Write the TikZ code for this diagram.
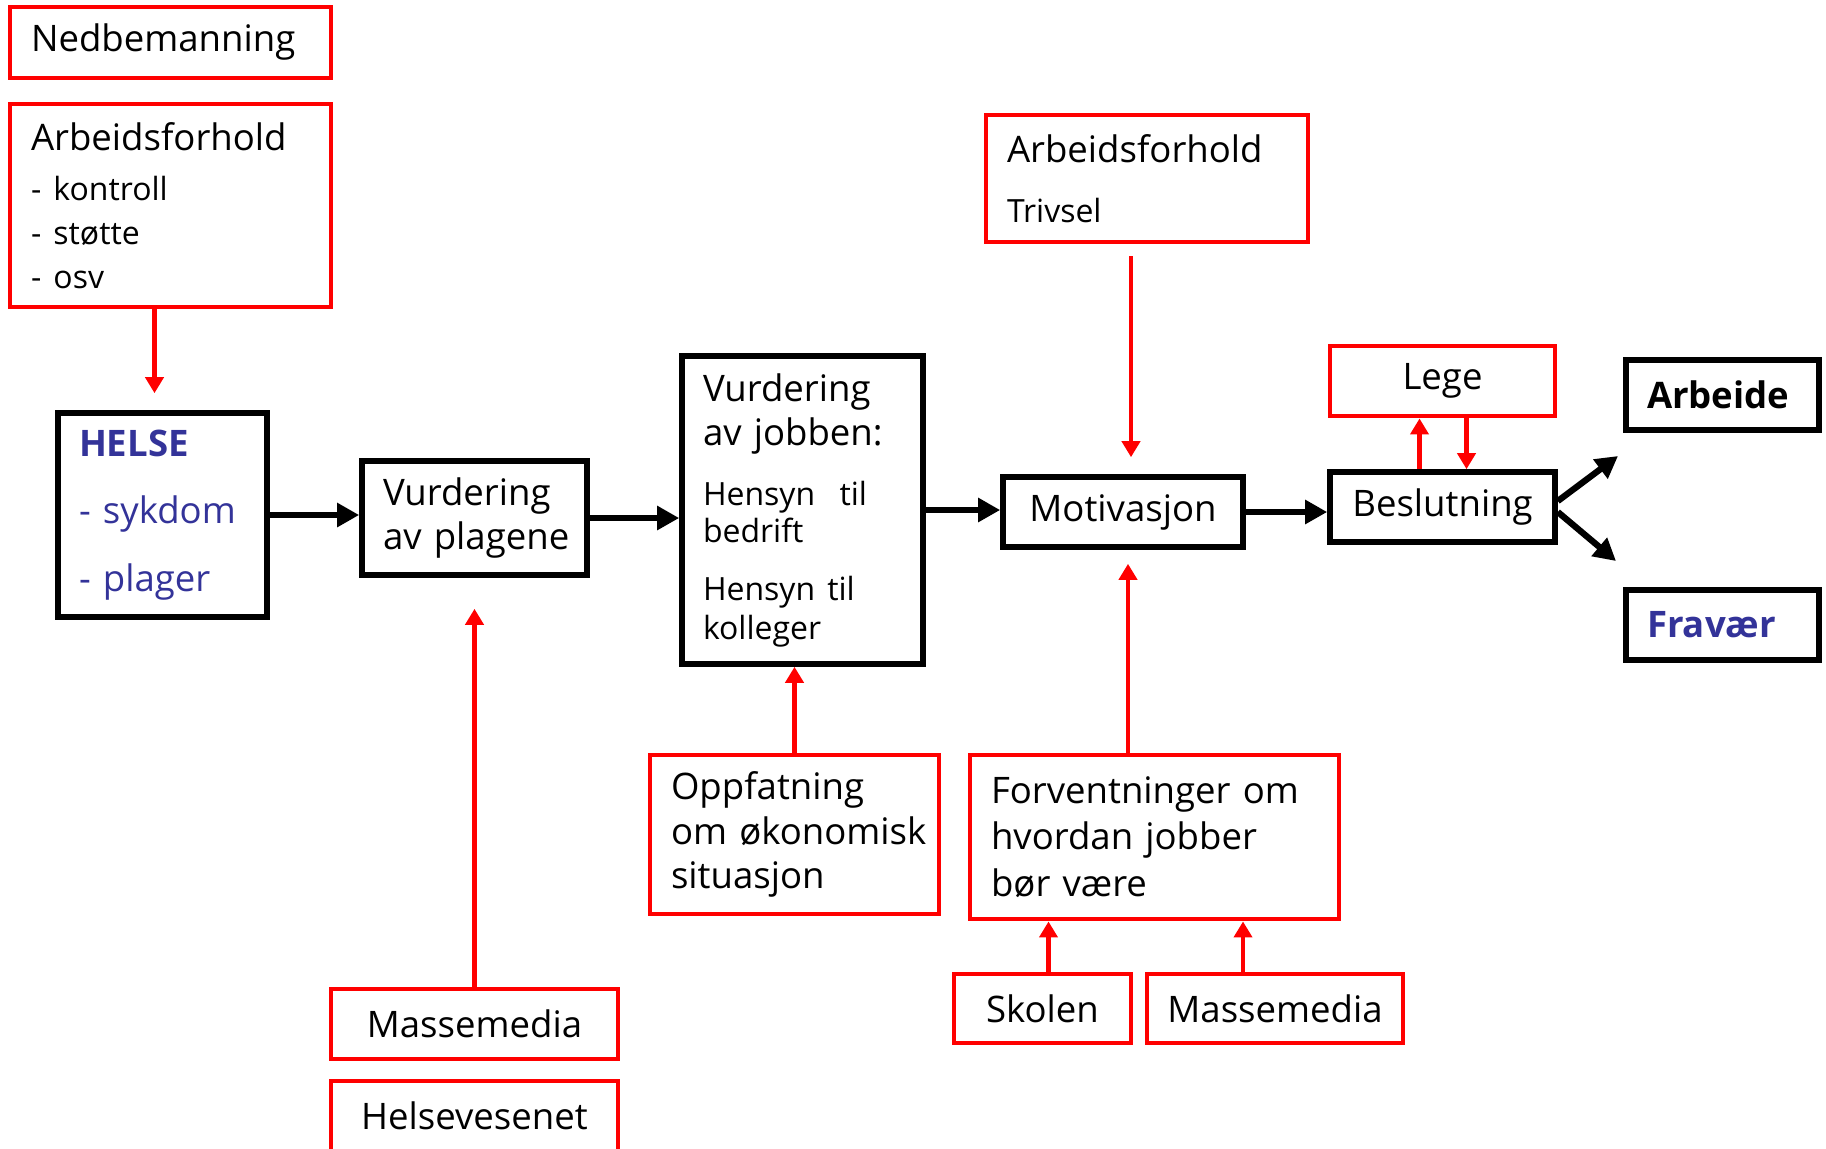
\documentclass[tikz,border=0pt]{standalone}
\usepackage{fontspec}
\setmainfont{Open Sans}
\usetikzlibrary{arrows.meta}
\definecolor{myred}{rgb}{1,0,0}
\definecolor{myblue}{RGB}{51,51,153}
\newcommand{\smalltxt}{\fontsize{9.1}{12.5}\selectfont}
\tikzset{
  mybox/.style = {draw, inner sep=0pt, font=\fontsize{10.4}{12.5}\selectfont},
  redbox/.style = {mybox, draw=myred, line width=1.4pt},
  blackbox/.style = {mybox, draw=black, line width=1.6pt},
  leftbox/.style = {align=left, inner xsep=2.1mm},
  redarrow/.style = {myred, line width=1.4pt, -{Triangle[length=1.6mm, width=1.8mm]}},
  blackarrow/.style = {black, line width=1.8pt, -{Triangle[length=2.2mm, width=2.3mm]}},
}

\begin{document}
\begin{tikzpicture}[x=0.1mm, y=-0.1mm]
\useasboundingbox (0,0) rectangle (1826,1148);

%%%%%%%%%%%%%%% left column %%%%%%%%%%%%%%%%
\node[redbox, leftbox, text width=27.9mm, minimum height=7.1mm] (ned) at (170.5,42.5) {Nedbemanning};
\node[redbox, leftbox, text width=27.9mm, minimum height=20.3mm] (arb) at (170.5,205.5)
  {Arbeidsforhold\\[1.7pt]\smalltxt - kontroll\\ - støtte\\ - osv};
\node[blackbox, leftbox, text width=16.7mm, minimum height=20.4mm, text=myblue,
  font=\fontsize{10.4}{19.2}\selectfont] (helse) at (162.5,515)
  {{\bfseries HELSE}\\ - sykdom\\ - plager};

%%%%%%%%%%%%%%% main row %%%%%%%%%%%%%%%%
\node[blackbox, leftbox, text width=18.3mm, minimum height=11.4mm] (plag) at (474.5,518)
  {Vurdering\\\mbox{av plagene}};
\node[blackbox, leftbox, text width=19.9mm, minimum height=30.8mm] (jobb) at (802.5,510)
  {Vurdering\\\mbox{av jobben:}\\[4.7pt]\smalltxt \mbox{Hensyn~ til}\\[-1.9pt]bedrift\\[4pt]\mbox{Hensyn til}\\[-1.6pt]kolleger};
\node[blackbox, minimum width=24mm, minimum height=7mm] (mot) at (1123,512) {Motivasjon};
\node[blackbox, minimum width=22.5mm, minimum height=7mm] (besl) at (1442.5,507) {Beslutning};
\node[redbox, minimum width=22.5mm, minimum height=7mm] (lege) at (1442.5,381) {Lege};
\node[blackbox, leftbox, text width=15.1mm, minimum height=7mm, font=\fontsize{10.4}{12.5}\selectfont\bfseries]
  (arbeide) at (1722.5,395) {Arbeide};
\node[blackbox, leftbox, text width=15.1mm, minimum height=7mm, text=myblue,
  font=\fontsize{10.4}{12.5}\selectfont\bfseries] (fravaer) at (1722.5,625) {Fravær};

%%%%%%%%%%%%%%% influences %%%%%%%%%%%%%%%%
\node[redbox, leftbox, text width=28mm, minimum height=12.7mm] (triv) at (1147,178.5)
  {Arbeidsforhold\\[4.4pt]\smalltxt Trivsel};
\node[redbox, leftbox, text width=32.7mm, minimum height=16.4mm, font=\fontsize{10.4}{13.2}\selectfont]
  (forv) at (1154.5,837) {\mbox{Forventninger om}\\\mbox{hvordan jobber}\\bør være};
\node[redbox, minimum width=17.7mm, minimum height=6.9mm] (skol) at (1042.5,1008.5) {Skolen};
\node[redbox, minimum width=25.6mm, minimum height=6.9mm] (mmb) at (1275,1008.5) {Massemedia};
\node[redbox, leftbox, text width=24.7mm, minimum height=15.9mm, font=\fontsize{10.4}{12.7}\selectfont]
  (opp) at (794.5,834.5) {Oppfatning\\\mbox{om økonomisk}\\situasjon};
\node[redbox, minimum width=28.7mm, minimum height=7mm] (mma) at (474.5,1024) {Massemedia};
\node[redbox, minimum width=28.7mm, minimum height=7mm] (hv) at (474.5,1116) {Helsevesenet};

%%%%%%%%%%%%%%% arrows %%%%%%%%%%%%%%%%
\foreach \a/\b in {helse/plag, plag/jobb, jobb/mot, mot/besl}
  \draw[blackarrow] (\a.east) -- (\a.east -| \b.west);
\coordinate (toarb) at (1618,456);
\coordinate (tofra) at (1616,561);
\draw[blackarrow] ([yshift=.6mm]besl.east) -- (toarb);
\draw[blackarrow] ([yshift=-.5mm]besl.east) -- (tofra);

\draw[redarrow, shorten >=1.7mm] ([xshift=-.8mm]helse.north |- arb.south) -- ([xshift=-.8mm]helse.north);
\draw[redarrow, shorten <=1.2mm, shorten >=1.7mm] ([xshift=.8mm]mot.north |- triv.south) -- ([xshift=.8mm]mot.north);
\draw[redarrow, shorten >=1.4mm] ([xshift=.5mm]mot.south |- forv.north) -- ([xshift=.5mm]mot.south);
\draw[redarrow] (opp.north) -- (opp.north |- jobb.south);
\draw[redarrow] ([xshift=.6mm]skol.north) -- ([xshift=.6mm]skol.north |- forv.south);
\draw[redarrow] ([xshift=-3.2mm]mmb.north) -- ([xshift=-3.2mm]mmb.north |- forv.south);
\draw[redarrow, shorten >=3.1mm] (mma.north) -- (plag.south);
\draw[redarrow] ([xshift=-2.3mm]besl.north) -- ([xshift=-2.3mm]lege.south);
\draw[redarrow] ([xshift=2.4mm]lege.south) -- ([xshift=2.4mm]besl.north);

\end{tikzpicture}
\end{document}
